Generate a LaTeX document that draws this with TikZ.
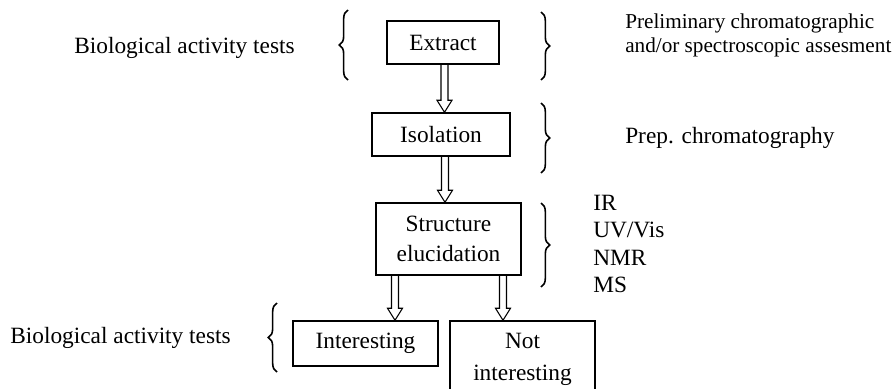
\documentclass[tikz,border=0pt]{standalone}
\usepackage{fontspec}
\setmainfont{Liberation Serif}
\usetikzlibrary{calc,decorations.pathreplacing}
\newcommand{\hollowarrow}[2]{%
  \draw[harrow] ($(#1)+(-3.5,0)$) -- ($(#2)+(-3.5,-12)$) -- ($(#2)+(-7.5,-12)$) -- (#2)
    -- ($(#2)+(7.5,-12)$) -- ($(#2)+(3.5,-12)$) -- ($(#1)+(3.5,0)$);}
\begin{document}
\begin{tikzpicture}[x=0.75pt,y=-0.75pt,
  txt/.style={font=\fontsize{17.5}{23}\selectfont},
  box/.style={draw,line width=1.1pt,inner sep=0pt,align=center,txt},
  lbl/.style={inner sep=0pt,txt,align=left},
  brc/.style={decorate,decoration={brace,amplitude=6.5pt},line width=1.2pt},
  harrow/.style={draw,line width=0.8pt,line join=miter}]
\useasboundingbox (0,0) rectangle (896,389);
% boxes
\node[box,minimum width=84pt,minimum height=32.25pt] (extract) at (443,42.5) {Extract};
\node[box,minimum width=103.5pt,minimum height=32.25pt] (isolation) at (441,134.5) {Isolation};
\node[box,minimum width=108.75pt,minimum height=54pt] (struct) at (448.5,239) {Structure\\elucidation};
\node[box,minimum width=108.75pt,minimum height=33.75pt] (inter) at (365.5,343.5) {Interesting};
\node[box,minimum width=108.75pt,minimum height=57pt,font=\fontsize{17.5}{24}\selectfont] (notint) at (522.5,359) {Not\\interesting};
% arrow x positions
\coordinate (ax1) at (444.5,0);
\coordinate (ax2) at (445,0);
\coordinate (ax3) at (395,0);
\coordinate (ax4) at (503,0);
\hollowarrow{extract.south -| ax1}{isolation.north -| ax1}
\hollowarrow{isolation.south -| ax2}{struct.north -| ax2}
\hollowarrow{struct.south -| ax3}{inter.north -| ax3}
\hollowarrow{struct.south -| ax4}{notint.north -| ax4}
% braces
\coordinate (bl1a) at (348,80); \coordinate (bl1b) at (348,10);
\coordinate (br1a) at (541,12); \coordinate (br1b) at (541,80);
\coordinate (br2a) at (541,103); \coordinate (br2b) at (541,173);
\coordinate (br3a) at (541,203); \coordinate (br3b) at (541,287);
\coordinate (bl2a) at (277,372); \coordinate (bl2b) at (277,303);
\draw[brc] (bl1a) -- (bl1b);
\draw[brc] (br1a) -- (br1b);
\draw[brc] (br2a) -- (br2b);
\draw[brc] (br3a) -- (br3b);
\draw[brc] (bl2a) -- (bl2b);
% labels
\node[lbl] (bio1) at (184.5,48) {Biological activity tests};
\node[lbl] (bio2) at (120.5,338) {Biological activity tests};
\node[lbl,anchor=west,font=\fontsize{15.9}{17}\selectfont] (prelim) at (625,35) {Preliminary chromatographic\\[1pt]and/or spectroscopic assesment};
\node[lbl,anchor=west] (prep) at (625,138) {Prep. chromatography};
\node[lbl,anchor=west,font=\fontsize{17.5}{20.5}\selectfont] (spec) at (593,244) {IR\\UV/Vis\\NMR\\MS};
\end{tikzpicture}
\end{document}
